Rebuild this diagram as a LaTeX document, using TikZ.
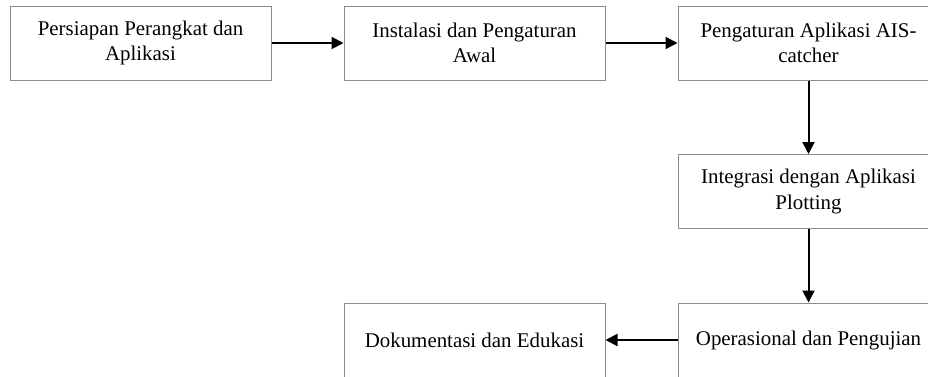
\documentclass[tikz,border=0pt]{standalone}
\usepackage{fontspec}
\setmainfont{Liberation Serif}
\usetikzlibrary{arrows.meta}
\definecolor{boxgray}{HTML}{8C8C8C}
\begin{document}
\begin{tikzpicture}[x=1pt,y=1pt,
  stepbox/.style={draw=boxgray, line width=1pt, minimum width=261pt, minimum height=74pt,
    inner sep=0pt, align=center, font=\fontsize{20.9}{25.5}\selectfont},
  flow/.style={line width=2pt, -{Triangle[length=12pt,width=12pt]}}]
\useasboundingbox (0,0) rectangle (928,-376);
\clip (0,0) rectangle (928,-376);
\node[stepbox] (a) at (140.5,-43) {Persiapan Perangkat dan\\Aplikasi};
\node[stepbox] (b) at (474.5,-43) {Instalasi dan Pengaturan\\Awal};
\node[stepbox] (c) at (808.5,-43) {Pengaturan Aplikasi AIS-\\catcher};
\node[stepbox] (d) at (808.5,-191.5) {Integrasi dengan Aplikasi\\Plotting};
\node[stepbox] (e) at (808.5,-340) {Operasional dan Pengujian};
\node[stepbox] (f) at (474.5,-340) {Dokumentasi dan Edukasi};
\draw[flow] (a) -- (b);
\draw[flow] (b) -- (c);
\draw[flow] (c) -- (d);
\draw[flow] (d) -- (e);
\draw[flow] (e) -- (f);
\end{tikzpicture}
\end{document}
